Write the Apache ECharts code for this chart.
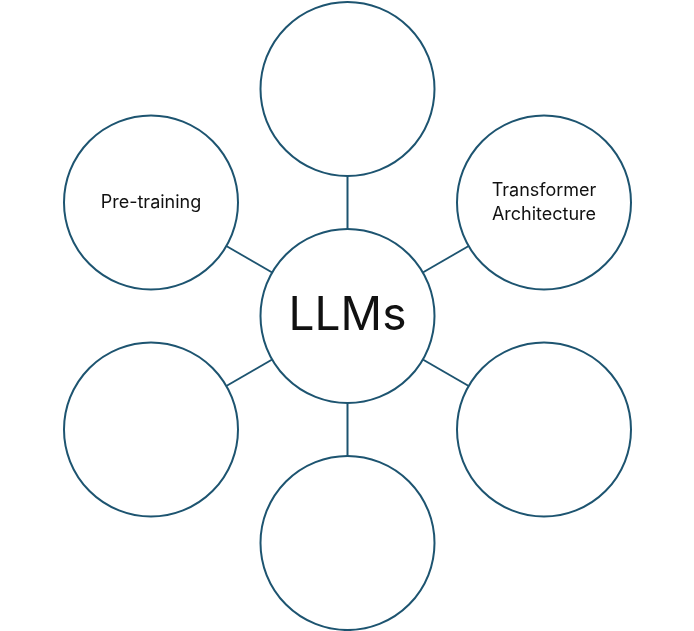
<!DOCTYPE html>
<html>
<head>
<meta charset="utf-8">
<script src="https://cdn.jsdelivr.net/npm/echarts@6/dist/echarts.min.js"></script>
<style>html,body{margin:0;padding:0;background:#fff}#main{width:694px;height:631px}</style>
</head>
<body>
<div id="main"></div>
<script>
// hub and outer topics (clockwise from the top)
var hubName = 'LLMs';
var topicNames = ['', 'Transformer\nArchitecture', '', '', '', 'Pre-training'];
var topicAngles = [90, 30, -30, -90, -150, 150];
var spokeRadius = 227;

var chart = echarts.init(document.getElementById('main'));
var nodes = [{ name: 'hub', value: hubName, x: 0, y: 0,
    label: { fontSize: 46 } }];
var links = [];
for (var i = 0; i < topicNames.length; i++) {
    var a = topicAngles[i] * Math.PI / 180;
    nodes.push({ name: 't' + i, value: topicNames[i],
        x: spokeRadius * Math.cos(a), y: -spokeRadius * Math.sin(a) });
    links.push({ source: 'hub', target: 't' + i });
}

chart.setOption({
    backgroundColor: '#fff',
    series: [{
        type: 'graph',
        layout: 'none',
        left: 151, top: 89, width: 393, height: 454,
        symbol: 'circle',
        symbolSize: 174,
        itemStyle: { color: '#fff', borderColor: '#1d5470', borderWidth: 2 },
        lineStyle: { color: '#1d5470', width: 2, opacity: 1 },
        label: {
            show: true, color: '#111', fontSize: 18, lineHeight: 24,
            fontFamily: 'Inter, Noto Sans, sans-serif',
            formatter: function (p) { return p.value; }
        },
        emphasis: { disabled: true },
        data: nodes,
        links: links
    }]
});
</script>
</body>
</html>
